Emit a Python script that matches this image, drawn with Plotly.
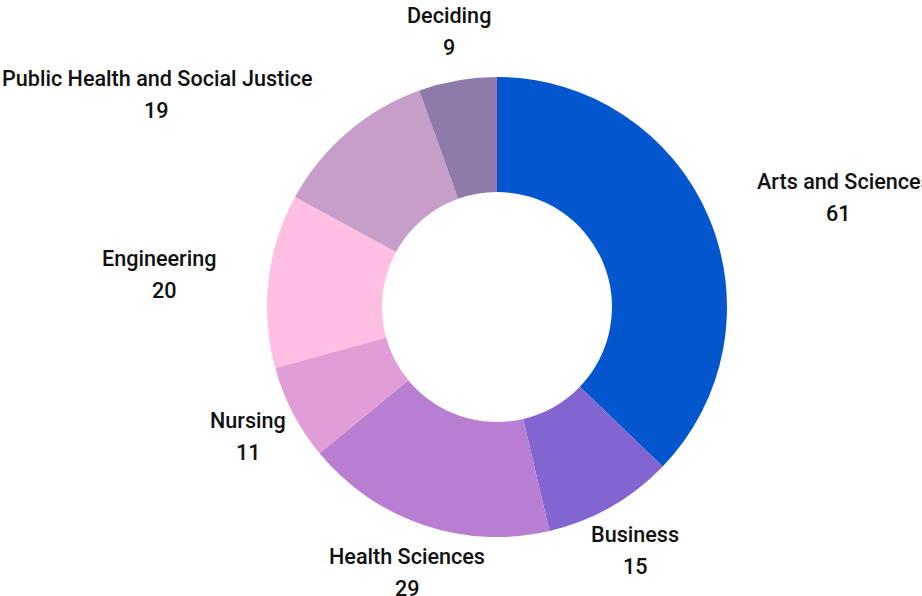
import math
import plotly.graph_objects as go

labels = ["Arts and Sciences", "Business", "Health Sciences", "Nursing",
          "Engineering", "Public Health and Social Justice", "Deciding"]
values = [61, 15, 29, 11, 20, 19, 9]
colors = ["#0356CE", "#8265D0", "#B87ED2", "#E09DD6", "#FEBFE2", "#C79DC9", "#8E7BAA"]

W, H = 922, 596
CX, CY, R = 497, 307, 230
LABEL_DIST = 280
FONT_SIZE = 21.6
LINE_GAP = 32
CHAR_W = 0.457
FONT = "Roboto"

fig = go.Figure(go.Pie(
    labels=labels, values=values, hole=0.5, sort=False, direction="clockwise",
    rotation=0, marker=dict(colors=colors, line=dict(width=0)),
    textinfo="none", hoverinfo="label+value", showlegend=False,
    domain=dict(x=[(CX - R) / W, (CX + R) / W], y=[(H - CY - R) / H, (H - CY + R) / H]),
))

total = sum(values)
cum = 0
annotations = []
for lab, val in zip(labels, values):
    mid = (cum + val / 2) / total * 2 * math.pi
    cum += val
    s, c = math.sin(mid), math.cos(mid)
    px, py = CX + LABEL_DIST * s, CY - LABEL_DIST * c
    w = max(len(lab), len(str(val))) * FONT_SIZE * CHAR_W
    h = LINE_GAP + FONT_SIZE * 1.3
    qx = min(max(CX, px - w / 2), px + w / 2)
    qy = min(max(CY, py - h / 2), py + h / 2)
    overlap = math.hypot(qx - CX, qy - CY) < R
    anchor = ("left" if s > 0 else "right") if overlap else "center"
    font = dict(family=FONT, size=FONT_SIZE, color="#111111", weight=500)
    annotations.append(dict(
        x=px / W, y=1 - py / H, xref="paper", yref="paper", text=lab,
        showarrow=False, xanchor=anchor, yanchor="middle", yshift=LINE_GAP / 2,
        font=font,
    ))
    off = 0
    if anchor == "left":
        off = len(lab) * FONT_SIZE * CHAR_W / 2
    elif anchor == "right":
        off = -len(lab) * FONT_SIZE * CHAR_W / 2
    annotations.append(dict(
        x=px / W, y=1 - py / H, xref="paper", yref="paper", text=str(val),
        showarrow=False, xanchor="center", yanchor="middle", yshift=-LINE_GAP / 2,
        xshift=off, font=font,
    ))

fig.update_layout(
    width=W, height=H, margin=dict(l=0, r=0, t=0, b=0),
    paper_bgcolor="white", plot_bgcolor="white", annotations=annotations,
)
fig.write_html("out.html")
